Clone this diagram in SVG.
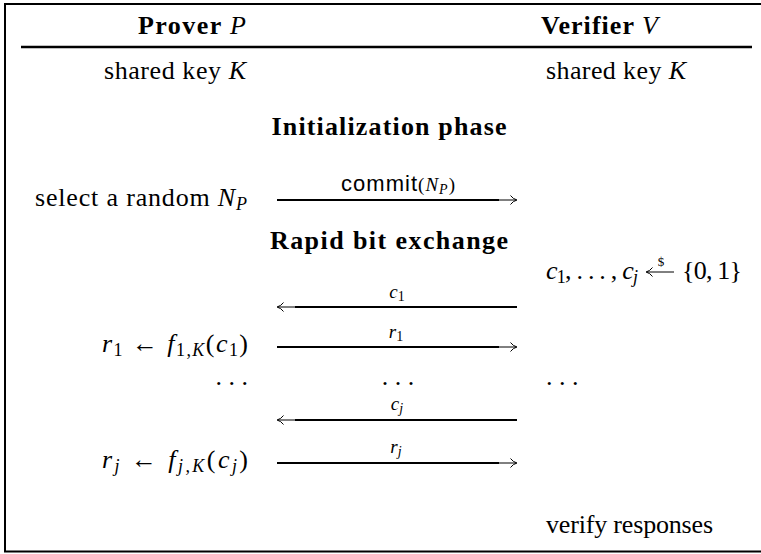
<svg xmlns="http://www.w3.org/2000/svg" width="761" height="554" viewBox="0 0 761 554">
<style>
.t{font-family:"Liberation Serif","Times New Roman",serif;font-size:26px;fill:#000}
.b{font-weight:bold}
.i{font-style:italic}
.lbl{font-family:"Liberation Serif","Times New Roman",serif;font-size:19px;font-style:italic;fill:#000}
.sf{font-family:"Liberation Sans",Arial,sans-serif;font-style:normal}
.dollar{font-family:"Liberation Serif","Times New Roman",serif;font-size:13px;fill:#000}
.shaft{stroke:#000;stroke-width:1.8;fill:none}
.thin{stroke:#000;stroke-width:1;fill:none}
.frame{stroke:#000;stroke-width:2;fill:none}
</style>
<g id="frame">
<path class="frame" d="M761,4 H5 V551.5 H761"/>
<line x1="21" y1="47" x2="752" y2="47" stroke="#000" stroke-width="2.6"/>
</g>
<g id="prover-header"><text class="t b" x="246" y="34" text-anchor="end" textLength="108">Prover <tspan class="i" font-weight="normal">P</tspan></text></g>
<g id="verifier-header"><text class="t b" x="541" y="34" textLength="117">Verifier <tspan class="i" font-weight="normal">V</tspan></text></g>
<g id="prover-key"><text class="t" x="246" y="79" text-anchor="end" textLength="142">shared key <tspan class="i">K</tspan></text></g>
<g id="verifier-key"><text class="t" x="546" y="79" textLength="140">shared key <tspan class="i">K</tspan></text></g>
<g id="init-phase"><text class="t b" x="389" y="135" text-anchor="middle" textLength="235">Initialization phase</text></g>
<g id="select-nonce"><text class="t" x="247" y="206" text-anchor="end" textLength="212">select a random <tspan class="i">N</tspan><tspan class="i" font-size="18" dy="4">P</tspan></text></g>
<g id="rapid-phase"><text class="t b" x="389" y="249" text-anchor="middle" textLength="238">Rapid bit exchange</text></g>
<g id="verifier-choose">
<text class="t" x="546" y="279" textLength="92"><tspan class="i">c</tspan><tspan font-size="18" dy="4">1</tspan><tspan dy="-4">, . . . , </tspan><tspan class="i">c</tspan><tspan class="i" font-size="18" dy="4">j</tspan></text>
<line class="thin" x1="647" y1="272" x2="674" y2="272" stroke-width="1.1"/>
<path class="thin" d="M652.5,267.5 Q650,271 646,272 Q650,273 652.5,276.5"/>
<text class="dollar" x="661" y="266" text-anchor="middle">$</text>
<text class="t" x="742" y="279" text-anchor="end" textLength="60">{0, 1}</text>
</g>
<g id="prover-r1"><text class="t" x="248" y="352" text-anchor="end" textLength="146"><tspan class="i">r</tspan><tspan font-size="18" dy="4">1</tspan><tspan dy="-4"> ← </tspan><tspan class="i">f</tspan><tspan font-size="18" dy="4">1,<tspan class="i">K</tspan></tspan><tspan dy="-4">(</tspan><tspan class="i">c</tspan><tspan font-size="18" dy="4">1</tspan><tspan dy="-4">)</tspan></text></g>
<g id="dots-left"><text class="t" x="248" y="385" text-anchor="end">. . .</text></g>
<g id="dots-mid"><text class="t" x="398" y="385" text-anchor="middle">. . .</text></g>
<g id="dots-right"><text class="t" x="546" y="385">. . .</text></g>
<g id="prover-rj"><text class="t" x="248" y="468" text-anchor="end" textLength="146"><tspan class="i">r</tspan><tspan class="i" font-size="18" dy="4">j</tspan><tspan dy="-4"> ← </tspan><tspan class="i">f</tspan><tspan class="i" font-size="18" dy="4">j,K</tspan><tspan dy="-4">(</tspan><tspan class="i">c</tspan><tspan class="i" font-size="18" dy="4">j</tspan><tspan dy="-4">)</tspan></text></g>
<g id="verify"><text class="t" x="546" y="533" textLength="167">verify responses</text></g>
<g id="connectors">
<g id="commit-msg">
<line class="shaft" x1="277" y1="200" x2="499" y2="200"/><line class="thin" x1="499" y1="200" x2="516" y2="200"/>
<path class="thin" d="M510.5,195.5 Q513,199 517,200 Q513,201 510.5,204.5"/>
<text class="lbl" x="398" y="191" text-anchor="middle" textLength="114"><tspan class="sf" font-size="22">commit</tspan><tspan font-style="normal">(</tspan>N<tspan font-size="14" dy="3">P</tspan><tspan font-style="normal" dy="-3">)</tspan></text>
</g>
<g id="c1-msg">
<line class="shaft" x1="295" y1="307" x2="517" y2="307"/><line class="thin" x1="278" y1="307" x2="295" y2="307"/>
<path class="thin" d="M283.5,302.5 Q281,306 277,307 Q281,308 283.5,311.5"/>
<text class="lbl" x="397" y="298" text-anchor="middle">c<tspan font-size="14" font-style="normal" dy="3">1</tspan></text>
</g>
<g id="r1-msg">
<line class="shaft" x1="277" y1="347" x2="499" y2="347"/><line class="thin" x1="499" y1="347" x2="516" y2="347"/>
<path class="thin" d="M510.5,342.5 Q513,346 517,347 Q513,348 510.5,351.5"/>
<text class="lbl" x="396" y="338" text-anchor="middle">r<tspan font-size="14" font-style="normal" dy="3">1</tspan></text>
</g>
<g id="cj-msg">
<line class="shaft" x1="295" y1="420" x2="517" y2="420"/><line class="thin" x1="278" y1="420" x2="295" y2="420"/>
<path class="thin" d="M283.5,415.5 Q281,419 277,420 Q281,421 283.5,424.5"/>
<text class="lbl" x="397" y="410" text-anchor="middle">c<tspan font-size="14" dy="3">j</tspan></text>
</g>
<g id="rj-msg">
<line class="shaft" x1="277" y1="463" x2="499" y2="463"/><line class="thin" x1="499" y1="463" x2="516" y2="463"/>
<path class="thin" d="M510.5,458.5 Q513,462 517,463 Q513,464 510.5,467.5"/>
<text class="lbl" x="396" y="453" text-anchor="middle">r<tspan font-size="14" dy="3">j</tspan></text>
</g>
</g>
</svg>
